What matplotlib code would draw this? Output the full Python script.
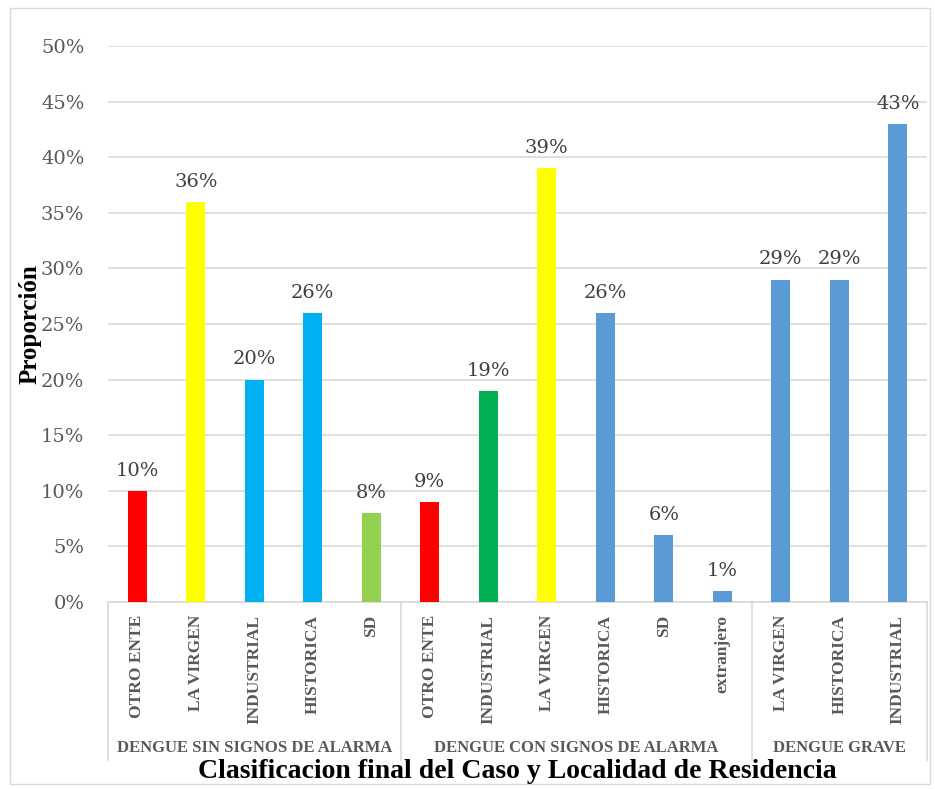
import matplotlib
matplotlib.use("Agg")
import matplotlib.pyplot as plt
from matplotlib.patches import Rectangle

groups = ["DENGUE SIN SIGNOS DE ALARMA", "DENGUE CON SIGNOS DE ALARMA", "DENGUE GRAVE"]
localidades = [
    ["OTRO ENTE", "LA VIRGEN", "INDUSTRIAL", "HISTORICA", "SD"],
    ["OTRO ENTE", "INDUSTRIAL", "LA VIRGEN", "HISTORICA", "SD", "extranjero"],
    ["LA VIRGEN", "HISTORICA", "INDUSTRIAL"],
]
valores = [
    [10, 36, 20, 26, 8],
    [9, 19, 39, 26, 6, 1],
    [29, 29, 43],
]
colores = [
    ["#FF0000", "#FFFF00", "#00B0F0", "#00B0F0", "#92D050"],
    ["#FF0000", "#00B050", "#FFFF00", "#5B9BD5", "#5B9BD5", "#5B9BD5"],
    ["#5B9BD5", "#5B9BD5", "#5B9BD5"],
]

W, H = 935, 789
fig = plt.figure(figsize=(W / 100, H / 100), dpi=100)
fig.patches.append(Rectangle((10 / W, 1 - 784 / H), 920 / W, 776 / H,
                             transform=fig.transFigure, fill=False,
                             edgecolor="#D9D9D9", linewidth=1))

ax = fig.add_axes([108 / W, 1 - 602 / H, 819 / W, 556 / H])
serif = "Liberation Serif"
numfont = "DejaVu Serif"
gray = "#595959"

x = 0
seps = [0]
for g, (locs, vals, cols) in enumerate(zip(localidades, valores, colores)):
    start = x
    for loc, v, c in zip(locs, vals, cols):
        ax.bar(x + 0.5, v, width=0.33, color=c, zorder=3)
        ax.text(x + 0.5, v + 1.0, f"{v}%", ha="center", va="bottom",
                fontsize=14, color="#404040", family=numfont)
        ax.text(x + 0.5, -0.023, loc, rotation=90, ha="center", va="top",
                fontsize=12.5, fontweight="bold", color=gray, family=serif,
                transform=ax.get_xaxis_transform())
        x += 1
    ax.text((start + x) / 2, -0.262, groups[g], ha="center", va="center",
            fontsize=12, fontweight="bold", color=gray, family=serif,
            transform=ax.get_xaxis_transform())
    seps.append(x)

for s in seps:
    ax.plot([s, s], [0, -0.285], color="#D9D9D9", linewidth=1.2,
            transform=ax.get_xaxis_transform(), clip_on=False)

ax.set_xlim(0, x)
ax.set_ylim(0, 50)
ax.set_yticks(range(0, 51, 5))
ax.set_yticklabels([f"{t}%" for t in range(0, 51, 5)], family=numfont,
                   fontsize=14, color=gray)
ax.tick_params(axis="y", length=0, pad=17)
ax.set_xticks([])
ax.grid(axis="y", color="#D9D9D9", linewidth=1.2, zorder=0)
for side in ["top", "right", "left"]:
    ax.spines[side].set_visible(False)
ax.spines["bottom"].set_color("#D9D9D9")
ax.spines["bottom"].set_linewidth(1.2)

fig.text(30 / W, 1 - 324 / H, "Proporción", rotation=90, ha="center",
         va="center", fontsize=18, fontweight="bold", family=serif)
fig.text(517 / W, 1 - 772 / H,
         "Clasificacion final del Caso y Localidad de Residencia",
         ha="center", va="center", fontsize=20, fontweight="bold",
         family=serif)

fig.savefig("out.png", dpi=100)
